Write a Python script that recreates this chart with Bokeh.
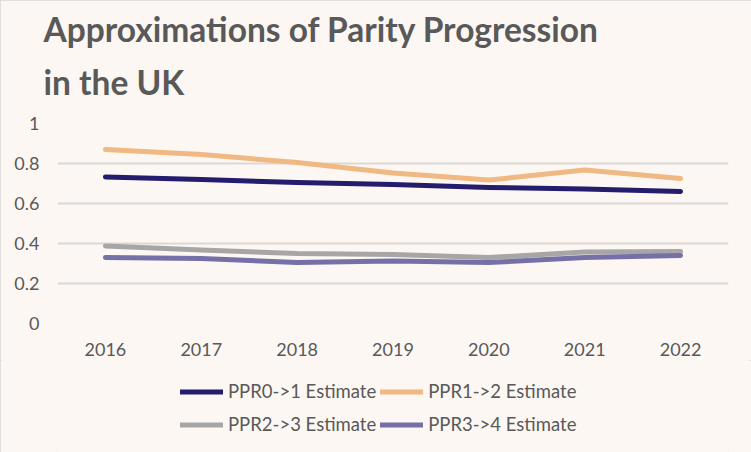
from bokeh.plotting import figure
from bokeh.models import Legend, LegendItem, FixedTicker, Title
from bokeh.layouts import column
from bokeh.embed import file_html
from bokeh.resources import INLINE

years = ["2016", "2017", "2018", "2019", "2020", "2021", "2022"]
ppr01 = [0.733, 0.720, 0.705, 0.695, 0.680, 0.672, 0.660]
ppr12 = [0.870, 0.845, 0.805, 0.753, 0.717, 0.767, 0.725]
ppr23 = [0.388, 0.368, 0.350, 0.345, 0.330, 0.358, 0.360]
ppr34 = [0.330, 0.325, 0.305, 0.312, 0.305, 0.330, 0.340]
series = [ppr01, ppr12, ppr23, ppr34]
series_names = ["PPR0->1 Estimate", "PPR1->2 Estimate", "PPR2->3 Estimate", "PPR3->4 Estimate"]
colors = ["#241C6C", "#F0B883", "#A6A6A6", "#7670A8"]
y_ticks = [0, 0.2, 0.4, 0.6, 0.8, 1.0]
title_lines = ["Approximations of Parity Progression", "in the UK"]

BG = "#FCF7F3"
TXT = "#595959"

p = figure(width=751, height=360, x_range=years, y_range=(0, 1.0),
           output_backend="svg", toolbar_location=None,
           min_border_left=57, min_border_right=23, min_border_top=123, min_border_bottom=37)
p.background_fill_color = BG
p.border_fill_color = BG
p.outline_line_color = None

def style_title(t):
    t.text_font = "Lato"
    t.text_font_style = "bold"
    t.text_font_size = "33.5px"
    t.text_color = TXT
    t.align = "left"
    t.offset = -14

# outer line (default title) and inner line (added title, nearest the frame)
p.title.text = title_lines[0]
style_title(p.title)
p.title.standoff = -20
t2 = Title(text=title_lines[1], standoff=43)
style_title(t2)
p.add_layout(t2, "above")

for vals, c in zip(series, colors):
    p.line(years, vals, line_color=c, line_width=5, line_cap="round", line_join="round")

p.x_range.range_padding = 0
p.yaxis.ticker = FixedTicker(ticks=y_ticks)
p.yaxis.major_label_overrides = {0: "0", 0.2: "0.2", 0.4: "0.4", 0.6: "0.6", 0.8: "0.8", 1.0: "1"}

for ax in [p.xaxis[0], p.yaxis[0]]:
    ax.axis_line_color = None
    ax.major_tick_line_color = None
    ax.minor_tick_line_color = None
    ax.major_tick_out = 0
    ax.major_tick_in = 0
    ax.major_label_text_font = "Lato"
    ax.major_label_text_font_size = "18px"
    ax.major_label_text_color = TXT
p.xaxis.major_label_standoff = 19
p.yaxis.major_label_standoff = 18

p.xgrid.grid_line_color = None
p.ygrid.grid_line_color = "#D9D9D9"
p.ygrid.grid_line_width = 2

# legend strip: same series, drawn outside its visible range so only the legend shows
q = figure(width=751, height=92, x_range=years, y_range=(5, 6),
           output_backend="svg", toolbar_location=None,
           x_axis_location=None, y_axis_location=None,
           min_border_left=0, min_border_right=0, min_border_top=0, min_border_bottom=0)
q.background_fill_color = BG
q.border_fill_color = BG
q.outline_line_color = None
q.grid.visible = False
q_renderers = []
for vals, c in zip(series, colors):
    q_renderers.append(q.line(years, vals, line_color=c, line_width=5, line_cap="round"))

items = [LegendItem(label=n, renderers=[r]) for n, r in zip(series_names, q_renderers)]
legend = Legend(items=items, orientation="horizontal", nrows=2, location=(123, 13.5),
                background_fill_alpha=0, border_line_color=None,
                label_text_font="Lato", label_text_font_size="18.5px", label_text_color=TXT,
                glyph_width=43, glyph_height=29, label_height=20,
                label_standoff=5, spacing=4, padding=0, margin=0)
q.add_layout(legend, "center")

layout = column(p, q, spacing=0)
layout.styles = {"outline": "2px solid #D9D9D9", "outline-offset": "-2px", "background-color": BG}

open("out.html", "w").write(file_html(layout, INLINE))
